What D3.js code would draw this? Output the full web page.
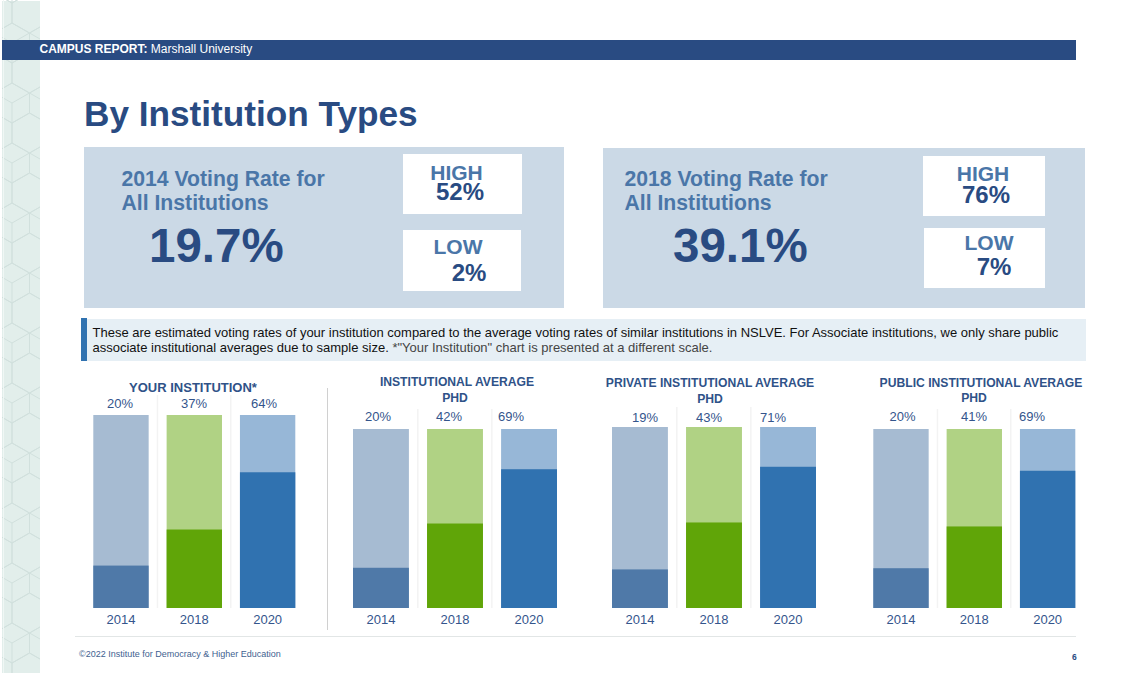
<!DOCTYPE html>
<html>
<head>
<meta charset="utf-8">
<script src="https://cdn.jsdelivr.net/npm/d3@7"></script>
<style>
  html, body { margin: 0; padding: 0; background: #fff; }
  svg { display: block; }
  text { font-family: "Liberation Sans", Arial, sans-serif; }
</style>
</head>
<body>
<div id="chart"></div>
<script>
var categories = ["2014", "2018", "2020"];
var yourInstitution = [20, 37, 64];
var institutionalAverage = [20, 42, 69];
var privateAverage = [19.4, 43, 71];
var publicAverage = [20, 41, 69];
// the bars are stacked up to the top of each chart's own scale
var scaleMaxes = [91, 89, 91, 90];
var panelTitles = [
  ["YOUR INSTITUTION*"],
  ["INSTITUTIONAL AVERAGE", "PHD"],
  ["PRIVATE INSTITUTIONAL AVERAGE", "PHD"],
  ["PUBLIC INSTITUTIONAL AVERAGE", "PHD"]
];
var darkColors = ["#4f79a8", "#60a508", "#3072b0"];
var lightColors = ["#a6bbd2", "#b0d284", "#97b7d7"];

var navy = "#294b82", labelBlue = "#34558c", midBlue = "#4a76a8", boxFill = "#cbd9e6";

var svg = d3.select("#chart").append("svg").attr("width", 1130).attr("height", 673);

// hexagon strip down the left side
var strip = svg.append("g");
strip.append("rect").attr("x", 2).attr("y", 1).attr("width", 38).attr("height", 672).attr("fill", "#e2eeeb");
var hexPath = "";
var hexW = 17.5, side = 20;
for (var row = -1; row < 24; row++) {
  for (var col = -1; col < 3; col++) {
    var cx = 29.5 + col * 2 * hexW + (row % 2 ? hexW : 0);
    var cy = 13 + row * 1.5 * side;
    hexPath += "M" + cx + "," + (cy - side) + "L" + (cx + hexW) + "," + (cy - side / 2) + "L" + (cx + hexW) + "," + (cy + side / 2)
      + "L" + cx + "," + (cy + side) + "L" + (cx - hexW) + "," + (cy + side / 2) + "L" + (cx - hexW) + "," + (cy - side / 2) + "Z";
    // every other row is drawn as a cube
    if (row % 2) {
      hexPath += "M" + cx + "," + cy + "L" + cx + "," + (cy + side)
        + "M" + cx + "," + cy + "L" + (cx - hexW) + "," + (cy - side / 2)
        + "M" + cx + "," + cy + "L" + (cx + hexW) + "," + (cy - side / 2);
    }
  }
}
svg.append("clipPath").attr("id", "stripClip").append("rect").attr("x", 2).attr("y", 0).attr("width", 38).attr("height", 673);
strip.append("path").attr("d", hexPath).attr("fill", "none").attr("stroke", "#d1e0dd").attr("stroke-width", 1).attr("clip-path", "url(#stripClip)");
strip.append("line").attr("x1", 3.5).attr("x2", 3.5).attr("y1", 0).attr("y2", 673).attr("stroke", "#f0f7f5").attr("stroke-width", 1);

// header bar
svg.append("rect").attr("x", 2).attr("y", 40).attr("width", 1074).attr("height", 20).attr("fill", navy);
var head = svg.append("text").attr("x", 39.5).attr("y", 53).attr("font-size", 12).attr("fill", "#fff");
head.append("tspan").attr("font-weight", "bold").text("CAMPUS REPORT: ");
head.append("tspan").text("Marshall University");

svg.append("text").attr("x", 84).attr("y", 126).attr("font-size", 35.2).attr("font-weight", "bold").attr("fill", navy).text("By Institution Types");

// the two summary boxes
var boxes = [
  { x: 84, y: 147, w: 480, h: 161, year: "2014", tx: 121.5, rate: "19.7%", rx: 149, high: "52%", low: "2%",
    hb: [403, 154, 119, 60], lb: [403, 230, 118, 61], hx: 456.5, hy: 180, hvx: 460, hvy: 200, lx: 458, ly: 254, lvx: 469, lvy: 281 },
  { x: 603, y: 148, w: 482, h: 160, year: "2018", tx: 624.5, rate: "39.1%", rx: 673, high: "76%", low: "7%",
    hb: [923, 156, 122, 60], lb: [924, 228, 121, 60], hx: 983, hy: 181, hvx: 986, hvy: 203, lx: 989, ly: 250, lvx: 994, lvy: 275 }
];
boxes.forEach(function(b) {
  svg.append("rect").attr("x", b.x).attr("y", b.y).attr("width", b.w).attr("height", b.h).attr("fill", boxFill);
  svg.append("text").attr("x", b.tx).attr("y", 186).attr("font-size", 21.2).attr("font-weight", "bold").attr("fill", midBlue).text(b.year + " Voting Rate for");
  svg.append("text").attr("x", b.tx).attr("y", 210).attr("font-size", 21.2).attr("font-weight", "bold").attr("fill", midBlue).text("All Institutions");
  svg.append("text").attr("x", b.rx).attr("y", 262).attr("font-size", 47.5).attr("font-weight", "bold").attr("fill", navy).text(b.rate);
  [b.hb, b.lb].forEach(function(r) {
    svg.append("rect").attr("x", r[0]).attr("y", r[1]).attr("width", r[2]).attr("height", r[3]).attr("fill", "#fff");
  });
  svg.append("text").attr("x", b.hx).attr("y", b.hy).attr("text-anchor", "middle").attr("font-size", 21).attr("font-weight", "bold").attr("fill", midBlue).text("HIGH");
  svg.append("text").attr("x", b.hvx).attr("y", b.hvy).attr("text-anchor", "middle").attr("font-size", 24).attr("font-weight", "bold").attr("fill", navy).text(b.high);
  svg.append("text").attr("x", b.lx).attr("y", b.ly).attr("text-anchor", "middle").attr("font-size", 21).attr("font-weight", "bold").attr("fill", midBlue).text("LOW");
  svg.append("text").attr("x", b.lvx).attr("y", b.lvy).attr("text-anchor", "middle").attr("font-size", 24).attr("font-weight", "bold").attr("fill", navy).text(b.low);
});

// note strip
svg.append("rect").attr("x", 81).attr("y", 319).attr("width", 1005).attr("height", 42).attr("fill", "#e6eff5");
svg.append("rect").attr("x", 81).attr("y", 318).attr("width", 6).attr("height", 43).attr("fill", "#3072b0");
svg.append("text").attr("x", 92.5).attr("y", 337).attr("font-size", 13).attr("fill", "#111").text("These are estimated voting rates of your institution compared to the average voting rates of similar institutions in NSLVE. For Associate institutions, we only share public");
var note2 = svg.append("text").attr("x", 92.5).attr("y", 352).attr("font-size", 13).attr("fill", "#111");
note2.append("tspan").text("associate institutional averages due to sample size. ");
note2.append("tspan").attr("fill", "#444").text("*\"Your Institution\" chart is presented at a different scale.");

// small bar charts; labelX is read off the page since the labels don't sit centred on their bars
var panels = [
  { values: yourInstitution, x0: 93.3, x1: 295.3, top: 415, titleX: [193], titleY: [392], labelY: 408, labelX: [120, 194, 264] },
  { values: institutionalAverage, x0: 353, x1: 557, top: 429, titleX: [457, 455], titleY: [386, 402], labelY: 421, labelX: [378, 449, 511] },
  { values: privateAverage, x0: 612, x1: 816, top: 427, titleX: [710, 710], titleY: [387, 403], labelY: 422, labelX: [645, 709, 773] },
  { values: publicAverage, x0: 873.3, x1: 1075.3, top: 429, titleX: [981, 974], titleY: [387, 402], labelY: 421, labelX: [902.5, 974, 1032] }
];
var bottom = 608;

panels.forEach(function(p, i) {
  var g = svg.append("g");
  var x = d3.scaleBand().domain(categories).range([p.x0, p.x1]).paddingInner(0.245);
  var y = d3.scaleLinear().domain([0, scaleMaxes[i]]).range([bottom, p.top]);

  // faint dividers between the bars
  g.selectAll("line.sep").data(categories.slice(1)).enter().append("line")
    .attr("class", "sep")
    .attr("x1", function(d) { return x(d) - x.step() * 0.125; })
    .attr("x2", function(d) { return x(d) - x.step() * 0.125; })
    .attr("y1", p.top - 20).attr("y2", bottom)
    .attr("stroke", "#f3f3f3").attr("stroke-width", 1.5);

  g.selectAll("rect.bg").data(categories).enter().append("rect")
    .attr("class", "bg")
    .attr("x", function(d) { return x(d); })
    .attr("width", x.bandwidth())
    .attr("y", y(scaleMaxes[i]))
    .attr("height", y(0) - y(scaleMaxes[i]))
    .attr("fill", function(d, j) { return lightColors[j]; });

  g.selectAll("rect.val").data(p.values).enter().append("rect")
    .attr("class", "val")
    .attr("x", function(d, j) { return x(categories[j]); })
    .attr("width", x.bandwidth())
    .attr("y", function(d) { return y(d); })
    .attr("height", function(d) { return y(0) - y(d); })
    .attr("fill", function(d, j) { return darkColors[j]; });

  g.selectAll("text.lab").data(p.values).enter().append("text")
    .attr("class", "lab")
    .attr("x", function(d, j) { return p.labelX[j]; })
    .attr("y", p.labelY)
    .attr("text-anchor", "middle")
    .attr("font-size", 13)
    .attr("fill", labelBlue)
    .text(function(d) { return Math.round(d) + "%"; });

  var axis = g.append("g").attr("transform", "translate(0," + bottom + ")")
    .call(d3.axisBottom(x).tickSize(0).tickPadding(7));
  axis.select(".domain").remove();
  axis.selectAll("text").attr("font-size", 13).attr("fill", labelBlue).style("font-family", "'Liberation Sans', Arial, sans-serif");

  panelTitles[i].forEach(function(t, k) {
    g.append("text").attr("x", p.titleX[k]).attr("y", p.titleY[k]).attr("text-anchor", "middle")
      .attr("font-size", i == 0 ? 13 : 12.15).attr("font-weight", "bold").attr("fill", "#2f5288").text(t);
  });
});

// divider after the first chart, footer rule
svg.append("line").attr("x1", 327.5).attr("x2", 327.5).attr("y1", 388).attr("y2", 630).attr("stroke", "#d0d0d0").attr("stroke-width", 1);
svg.append("line").attr("x1", 75).attr("x2", 1076).attr("y1", 636.5).attr("y2", 636.5).attr("stroke", "#e2e6e6").attr("stroke-width", 1);

svg.append("text").attr("x", 79).attr("y", 657).attr("font-size", 9).attr("fill", "#3f5f90").text("©2022 Institute for Democracy & Higher Education");
svg.append("text").attr("x", 1072).attr("y", 660).attr("font-size", 8.5).attr("font-weight", "bold").attr("fill", navy).text("6");
</script>
</body>
</html>
